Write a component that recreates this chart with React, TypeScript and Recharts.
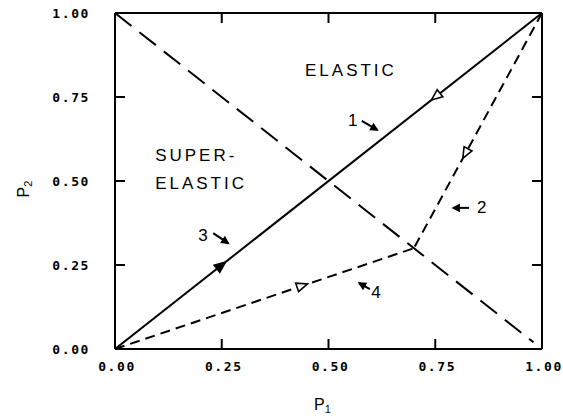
import React from 'react';
import { ComposedChart, Line, XAxis, YAxis, Scatter } from 'recharts';

// ---------- data ----------
const tickValues = [0, 0.25, 0.5, 0.75, 1];
const tickLabels = ['0.00', '0.25', '0.50', '0.75', '1.00'];

const diagonal = [{ x: 0, y: 0 }, { x: 1, y: 1 }];
const antiDiagonal = [{ x: 0, y: 1 }, { x: 0.98, y: 0.02 }];
const path2 = [{ x: 1, y: 1 }, { x: 0.7, y: 0.3 }];
const path4 = [{ x: 0, y: 0 }, { x: 0.7, y: 0.3 }];

// direction arrows on the paths: [position, point it heads toward]
const arrow1 = [{ x: 0.75, y: 0.75 }, { x: 0.5, y: 0.5 }];
const arrow3 = [{ x: 0.25, y: 0.25 }, { x: 0.5, y: 0.5 }];
const arrow2 = [{ x: 0.82, y: 0.58 }, { x: 0.7, y: 0.3 }];
const arrow4 = [{ x: 0.44, y: 0.189 }, { x: 0.7, y: 0.3 }];

// small pointer arrows next to the path numbers: [from, to]
const pointer1 = [{ x: 0.578, y: 0.679 }, { x: 0.614, y: 0.652 }];
const pointer3 = [{ x: 0.230, y: 0.345 }, { x: 0.265, y: 0.315 }];
const pointer2 = [{ x: 0.829, y: 0.420 }, { x: 0.792, y: 0.420 }];
const pointer4 = [{ x: 0.597, y: 0.178 }, { x: 0.572, y: 0.196 }];

const regionLabels = [
  { x: 0.445, y: 0.83, text: 'ELASTIC' },
  { x: 0.094, y: 0.577, text: 'SUPER-' },
  { x: 0.094, y: 0.494, text: 'ELASTIC' },
];
const pathNumbers = [
  { x: 0.557, y: 0.679, text: '1' },
  { x: 0.859, y: 0.42, text: '2' },
  { x: 0.206, y: 0.339, text: '3' },
  { x: 0.611, y: 0.167, text: '4' },
];

// ---------- layout ----------
const W = 563;
const H = 416;
const M = { top: 3, right: 11, bottom: 37, left: 55 };
const Y_W = 60;
const YR_W = 10;
const XT_H = 10;
const XB_H = 30;
const PLOT_W = W - M.left - M.right - Y_W - YR_W;
const PLOT_H = H - M.top - M.bottom - XT_H - XB_H;

const TICK_FONT = { fontFamily: '"DejaVu Sans Mono", monospace', fontWeight: 700, fontSize: 13, letterSpacing: 1.6 };
const TEXT_FONT = { fontFamily: '"Liberation Sans", Arial, sans-serif', fontSize: 17, letterSpacing: 3 };
const INNER = 10;

const labelFor = (v: number) => tickLabels[tickValues.indexOf(v)] ?? String(v);
const isInner = (v: number) => v > 0 && v < 1;

const BottomTick = (p: any) => {
  const { x, y, payload } = p;
  return (
    <g>
      {isInner(payload.value) && <line x1={x} y1={y} x2={x} y2={y - INNER} stroke="#000" strokeWidth={2} />}
      <text x={x + 2} y={y + 22} textAnchor="middle" fill="#000" style={TICK_FONT}>{labelFor(payload.value)}</text>
    </g>
  );
};
const LeftTick = (p: any) => {
  const { x, y, payload } = p;
  return (
    <g>
      {isInner(payload.value) && <line x1={x} y1={y} x2={x + INNER} y2={y} stroke="#000" strokeWidth={2} />}
      <text x={x - 25} y={y + 5} textAnchor="end" fill="#000" style={TICK_FONT}>{labelFor(payload.value)}</text>
    </g>
  );
};
const TopTick = (p: any) => {
  const { x, y, payload } = p;
  if (!isInner(payload.value)) return <g />;
  return <line x1={x} y1={y} x2={x} y2={y + INNER} stroke="#000" strokeWidth={2} />;
};
const RightTick = (p: any) => {
  const { x, y, payload } = p;
  if (!isInner(payload.value)) return <g />;
  return <line x1={x} y1={y} x2={x - INNER} y2={y} stroke="#000" strokeWidth={2} />;
};

// arrowhead drawn as a dot on a two-point line
const makeHead = (data: { x: number; y: number }[], at: 'first' | 'last', open: boolean, len: number, half: number, centred: boolean) =>
  (props: any) => {
    const { cx, cy, index, points } = props;
    const want = at === 'first' ? 0 : data.length - 1;
    if (index !== want || cx == null || cy == null) return <g key={`n-${index}`} />;
    let dx: number;
    let dy: number;
    if (points && points.length >= 2 && points[0].x != null) {
      dx = points[1].x - points[0].x;
      dy = points[1].y - points[0].y;
    } else {
      dx = (data[1].x - data[0].x) * PLOT_W;
      dy = -(data[1].y - data[0].y) * PLOT_H;
    }
    const d = Math.hypot(dx, dy) || 1;
    const ux = dx / d;
    const uy = dy / d;
    const a = centred ? len * 0.45 : 0;
    const b = centred ? len * 0.55 : len;
    const tx = cx + ux * a;
    const ty = cy + uy * a;
    const bx = cx - ux * b;
    const by = cy - uy * b;
    const px = -uy * half;
    const py = ux * half;
    const pts = `${tx},${ty} ${bx + px},${by + py} ${bx - px},${by - py}`;
    return (
      <polygon key={`h-${index}`} points={pts} fill={open ? '#fff' : '#000'} stroke="#000" strokeWidth={1.6} strokeLinejoin="miter" />
    );
  };

const RegionText = (p: any) => (
  <text x={p.cx} y={p.cy} dominantBaseline="central" textAnchor="start" fill="#000" style={TEXT_FONT}>{p.payload.text}</text>
);
const NumberText = (p: any) => (
  <text x={p.cx} y={p.cy} dominantBaseline="central" textAnchor="middle" fill="#000" style={{ ...TEXT_FONT, letterSpacing: 0 }}>{p.payload.text}</text>
);

const XLabel = (p: any) => {
  const vb = p.viewBox || { x: M.left + Y_W, y: H - M.bottom - XB_H, width: PLOT_W, height: XB_H };
  const cx = vb.x + vb.width / 2 - 6;
  return (
    <text x={cx} y={vb.y + 61} textAnchor="middle" fill="#000" style={{ fontFamily: '"Liberation Sans", Arial, sans-serif', fontSize: 16 }}>
      P<tspan fontSize={11} dy={3}>1</tspan>
    </text>
  );
};
const YLabel = (p: any) => {
  const vb = p.viewBox || { x: M.left, y: M.top + XT_H, width: Y_W, height: PLOT_H };
  const cx = vb.x - 26;
  const cy = vb.y + vb.height / 2 + 8;
  return (
    <text x={cx} y={cy} transform={`rotate(-90 ${cx} ${cy})`} textAnchor="middle" fill="#000" style={{ fontFamily: '"Liberation Sans", Arial, sans-serif', fontSize: 16 }}>
      P<tspan fontSize={11} dy={3}>2</tspan>
    </text>
  );
};

const pathLine = (key: string, data: any[], dash?: string) => (
  <Line key={key} data={data} dataKey="y" type="linear" stroke="#000" strokeWidth={2} strokeDasharray={dash}
    dot={false} activeDot={false} isAnimationActive={false} legendType="none" />
);
const headLine = (key: string, data: any[], open: boolean) => (
  <Line key={key} data={data} dataKey="y" type="linear" stroke="none" strokeWidth={0}
    dot={makeHead(data, 'first', open, 11, 4.5, true)} activeDot={false} isAnimationActive={false} legendType="none" />
);
const pointerLine = (key: string, data: any[]) => (
  <Line key={key} data={data} dataKey="y" type="linear" stroke="#000" strokeWidth={2}
    dot={makeHead(data, 'last', false, 6, 3, false)} activeDot={false} isAnimationActive={false} legendType="none" />
);

export default function App() {
  return (
    <div style={{ position: 'fixed', left: 0, top: 0, width: W, height: H, background: '#fff' }}>
      <ComposedChart width={W} height={H} margin={M}>
        <XAxis dataKey="x" type="number" domain={[0, 1]} ticks={tickValues} allowDataOverflow
          tickSize={0} tickMargin={0} interval={0} tick={<BottomTick />}
          axisLine={{ stroke: '#000', strokeWidth: 2 }} tickLine={false} height={XB_H} label={<XLabel />} />
        <XAxis xAxisId="top" orientation="top" dataKey="x" type="number" domain={[0, 1]} ticks={tickValues} allowDataOverflow
          tickSize={0} tickMargin={0} interval={0} tick={<TopTick />}
          axisLine={{ stroke: '#000', strokeWidth: 2 }} tickLine={false} height={XT_H} />
        <YAxis dataKey="y" type="number" domain={[0, 1]} ticks={tickValues} allowDataOverflow
          tickSize={0} tickMargin={0} interval={0} tick={<LeftTick />}
          axisLine={{ stroke: '#000', strokeWidth: 2 }} tickLine={false} width={Y_W} label={<YLabel />} />
        <YAxis yAxisId="right" orientation="right" dataKey="y" type="number" domain={[0, 1]} ticks={tickValues} allowDataOverflow
          tickSize={0} tickMargin={0} interval={0} tick={<RightTick />}
          axisLine={{ stroke: '#000', strokeWidth: 2 }} tickLine={false} width={YR_W} />

        <Line xAxisId="top" yAxisId="right" data={diagonal} dataKey="y" stroke="none" dot={false} activeDot={false} isAnimationActive={false} legendType="none" />

        {pathLine('anti', antiDiagonal, '21 10')}
        {pathLine('diag', diagonal)}
        {pathLine('p2', path2, '10 6')}
        {pathLine('p4', path4, '10 6')}

        {headLine('a1', arrow1, true)}
        {headLine('a3', arrow3, false)}
        {headLine('a2', arrow2, true)}
        {headLine('a4', arrow4, true)}

        {pointerLine('q1', pointer1)}
        {pointerLine('q3', pointer3)}
        {pointerLine('q2', pointer2)}
        {pointerLine('q4', pointer4)}

        <Scatter data={regionLabels} shape={<RegionText />} isAnimationActive={false} legendType="none" />
        <Scatter data={pathNumbers} shape={<NumberText />} isAnimationActive={false} legendType="none" />
      </ComposedChart>
    </div>
  );
}
